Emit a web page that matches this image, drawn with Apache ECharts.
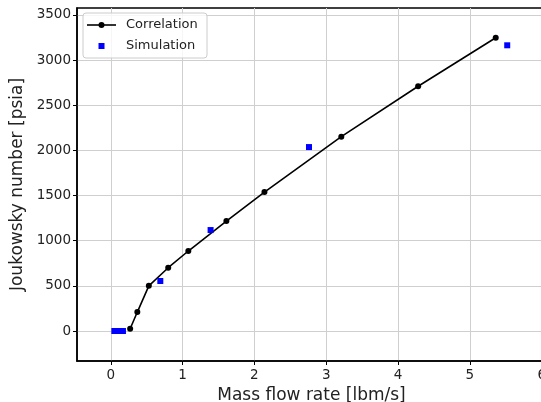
<!DOCTYPE html>
<html><head><meta charset="utf-8">
<script src="https://cdn.jsdelivr.net/npm/echarts@6/dist/echarts.min.js"></script>
<style>html,body{margin:0;padding:0;background:#fff}#c{width:541px;height:402px}</style>
</head><body><div id="c"></div>
<script>
const corrX = [0.27, 0.37, 0.53, 0.80, 1.08, 1.61, 2.14, 3.21, 4.28, 5.36];
const corrY = [25, 210, 500, 701, 886, 1218, 1539, 2152, 2710, 3248];
const simX = [0.05, 0.11, 0.17, 0.69, 1.39, 2.76, 5.52];
const simY = [0, 0, 0, 554, 1118, 2037, 3164];
const xTicks = [0, 1, 2, 3, 4, 5, 6];
const yTicks = [0, 500, 1000, 1500, 2000, 2500, 3000, 3500];

const font = 'DejaVu Sans';
const chart = echarts.init(document.getElementById('c'), null, {renderer: 'canvas'});
chart.setOption({
  animation: false,
  backgroundColor: '#fff',
  grid: {left: 77, top: 8, right: -5, bottom: 41, outerBoundsMode: 'none', containLabel: false,
         show: true, borderColor: '#000', borderWidth: 1.5, backgroundColor: 'transparent'},
  xAxis: {
    type: 'value', min: -0.47, max: 6.06,
    name: 'Mass flow rate [lbm/s]', nameLocation: 'middle', nameGap: 21,
    nameTextStyle: {fontFamily: font, fontSize: 17, color: '#222'},
    axisLine: {show: true, onZero: false, lineStyle: {color: '#000', width: 1.5}},
    axisTick: {show: true, inside: false, length: 4, customValues: xTicks, lineStyle: {color: '#000', width: 1}},
    axisLabel: {customValues: xTicks, margin: 7, fontFamily: font, fontSize: 13.5, color: '#222', formatter: v => String(v)},
    splitLine: {show: true, lineStyle: {color: '#cfcfcf', width: 1}}
  },
  yAxis: {
    type: 'value', min: -332, max: 3577,
    name: 'Joukowsky number [psia]', nameLocation: 'middle', nameGap: 43,
    nameTextStyle: {fontFamily: font, fontSize: 17, color: '#222'},
    axisLine: {show: true, onZero: false, lineStyle: {color: '#000', width: 1.5}},
    axisTick: {show: true, inside: false, length: 4, customValues: yTicks, lineStyle: {color: '#000', width: 1}},
    axisLabel: {customValues: yTicks, margin: 6, fontFamily: font, fontSize: 13.5, color: '#222', formatter: v => String(v)},
    splitLine: {show: true, lineStyle: {color: '#cfcfcf', width: 1}}
  },
  series: [
    {name: 'Correlation', type: 'line', data: corrX.map((x, i) => [x, corrY[i]]),
     symbol: 'circle', symbolSize: 6, showAllSymbol: true,
     lineStyle: {color: '#000', width: 1.6}, itemStyle: {color: '#000', opacity: 1}, z: 3},
    {name: 'Simulation', type: 'scatter', data: simX.map((x, i) => [x, simY[i]]),
     symbol: 'rect', symbolSize: 6, itemStyle: {color: '#0000ff', opacity: 1}, z: 4}
  ],
  graphic: [
    {type: 'rect', shape: {x: 83, y: 13, width: 124, height: 45, r: 3}, style: {fill: 'rgba(255,255,255,0.8)', stroke: '#cccccc', lineWidth: 1}, z: 10},
    {type: 'line', shape: {x1: 87, y1: 25, x2: 116, y2: 25}, style: {stroke: '#000', lineWidth: 1.6}, z: 11},
    {type: 'circle', shape: {cx: 101.5, cy: 25, r: 3}, style: {fill: '#000'}, z: 11},
    {type: 'rect', shape: {x: 98.5, y: 43, width: 6, height: 6}, style: {fill: '#0000ff'}, z: 11},
    {type: 'text', x: 126, y: 25, style: {text: 'Correlation', fontFamily: font, fontSize: 13, fill: '#222', verticalAlign: 'middle'}, z: 11},
    {type: 'text', x: 126, y: 46, style: {text: 'Simulation', fontFamily: font, fontSize: 13, fill: '#222', verticalAlign: 'middle'}, z: 11}
  ]
});
</script></body></html>
